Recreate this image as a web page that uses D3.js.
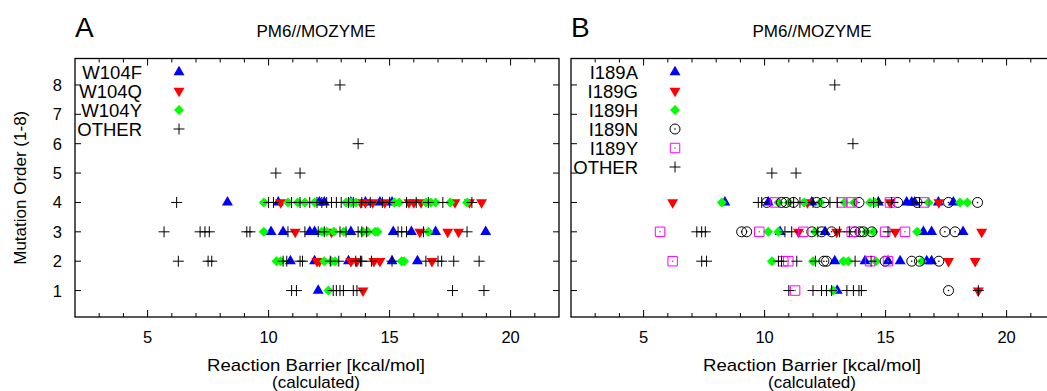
<!DOCTYPE html>
<html>
<head>
<meta charset="utf-8">
<script src="https://cdn.jsdelivr.net/npm/d3@7"></script>
<style>
  body { margin: 0; background: #fff; }
  text { font-family: "Liberation Sans", Arial, sans-serif; fill: #000; }
</style>
</head>
<body>
<div id="chart"></div>
<script>
// barrier values (kcal/mol) per mutation order
// panel A : W104
var aF = { 4: [8.3, 10.4, 12.1, 12.3, 13.4, 14.0, 14.6, 15.1],
           3: [10.1, 10.6, 11.7, 11.9, 13.4, 15.15, 15.9, 16.9, 18.97],
           2: [10.9, 11.9, 13.3, 15.1, 16.15],
           1: [12.05] };
var aQ = { 4: [10.5, 13.8, 14.0, 14.3, 14.8, 15.8, 16.0, 16.3, 17.7, 18.3, 18.8],
           3: [11.1, 12.6, 16.25, 17.4, 17.85],
           2: [12.0, 12.1, 13.4, 13.65, 14.35, 14.6, 16.75],
           1: [13.9] };
var aY = { 4: [9.8, 10.8, 11.2, 11.5, 11.9, 13.2, 13.4, 13.6, 15.2, 15.4, 16.5, 16.7, 16.9, 17.5, 18.2],
           3: [9.8, 12.2, 12.4, 12.7, 13.1, 13.9, 14.1, 14.4, 14.5, 16.6],
           2: [10.33, 10.5, 12.3, 12.6, 12.75, 15.5, 15.6],
           1: [12.47] };
var aOther = { 8: [12.95], 6: [13.7], 5: [10.3, 11.3],
           4: [6.2, 10.0, 10.2, 10.95, 11.3, 11.7, 12.0, 12.2, 12.4, 12.6, 12.8, 13.0, 13.3, 13.5, 13.85, 14.2, 14.7, 15.0, 15.7, 16.1, 16.6, 17.2, 18.4],
           3: [5.68, 7.17, 7.37, 7.55, 9.1, 9.23, 10.8, 11.5, 12.05, 12.3, 12.95, 13.2, 13.7, 13.85, 14.05, 15.35, 15.5, 15.7, 16.4, 18.2],
           2: [6.27, 7.5, 7.65, 10.6, 10.75, 11.3, 11.4, 12.55, 12.9, 13.6, 13.8, 13.85, 14.25, 15.1, 16.5, 17.0, 17.15, 17.65, 18.7],
           1: [10.95, 11.15, 12.67, 12.8, 12.95, 13.09, 13.5, 13.65, 17.6, 18.9] };

// panel B : I189
var bA = { 4: [8.36, 10.15, 11.95, 14.7, 15.87, 16.08, 16.2, 17.18, 17.8],
           3: [10.64, 12.5, 16.56, 16.9, 18.2],
           2: [12.9, 14.15, 15.1, 15.6, 16.7, 16.9],
           1: [13.0] };
var bG = { 4: [6.2, 11.77, 15.18, 17.2],
           3: [11.4, 12.98, 15.4, 18.97],
           2: [17.6, 18.7],
           1: [18.83] };
var bH = { 4: [8.23, 10.57, 11.0, 11.63, 12.3, 13.3, 13.7, 14.35, 14.56, 16.77, 18.07, 18.38],
           3: [10.15, 10.57, 12.08, 14.2, 14.5, 16.3],
           2: [10.3, 12.0, 13.25, 13.46, 14.6, 16.5],
           1: [12.84] };
var bN = { 4: [10.09, 10.7, 10.88, 11.19, 12.15, 12.45, 13.9, 15.5, 16.3, 17.6, 18.8],
           3: [9.05, 9.26, 11.95, 12.36, 12.77, 13.74, 13.94, 14.08, 14.43, 17.45, 17.87],
           2: [12.45, 12.56, 14.98, 16.08, 16.4, 17.2],
           1: [17.6] };
var bY = { 4: [10.43, 13.2, 13.6, 15.18, 16.6],
           3: [5.68, 9.78, 11.6, 13.6, 14.98, 15.8],
           2: [6.2, 10.77, 10.98, 14.36, 15.1],
           1: [11.26] };
var bOther = { 8: [12.9], 6: [13.65], 5: [10.3, 11.3],
           4: [9.74, 9.88, 11.2, 11.46, 12.0, 12.7, 13.0, 14.5, 14.7, 15.25, 16.4],
           3: [7.2, 7.4, 7.55, 10.84, 11.12, 12.2, 13.1, 13.5, 15.1],
           2: [7.4, 7.6, 10.57, 10.7, 11.33, 12.1, 13.74, 14.4],
           1: [11.0, 12.0, 12.35, 12.56, 12.77, 13.4, 13.67, 13.9, 14.0, 18.83] };

var xTicks = [5, 10, 15, 20];
var yTicks = [1, 2, 3, 4, 5, 6, 7, 8];

var panels = [
  { letter: "A", left: 75, yLabels: true,
    series: [
      { name: "W104F", kind: "up", data: aF },
      { name: "W104Q", kind: "down", data: aQ },
      { name: "W104Y", kind: "diamond", data: aY },
      { name: "OTHER", kind: "plus", data: aOther }
    ] },
  { letter: "B", left: 571, yLabels: false,
    series: [
      { name: "I189A", kind: "up", data: bA },
      { name: "I189G", kind: "down", data: bG },
      { name: "I189H", kind: "diamond", data: bH },
      { name: "I189N", kind: "circle", data: bN },
      { name: "I189Y", kind: "square", data: bY },
      { name: "OTHER", kind: "plus", data: bOther }
    ] }
];

var W = 1047, H = 391;
var plotTop = 58.5, plotBottom = 317, plotW = 484;

var svg = d3.select("#chart").append("svg")
  .attr("width", W).attr("height", H);

// flatten {order: [values]} into points
function toPoints(obj) {
  var pts = [];
  Object.keys(obj).forEach(function (k) {
    obj[k].forEach(function (v) { pts.push({ x: v, y: +k }); });
  });
  return pts;
}

function drawMarker(g, kind) {
  if (kind == "up") {
    g.append("path").attr("d", d3.symbol(d3.symbolTriangle).size(52)())
      .attr("fill", "#0000ff");
  } else if (kind == "down") {
    g.append("path").attr("d", d3.symbol(d3.symbolTriangle).size(52)())
      .attr("transform", "rotate(180)").attr("fill", "#ff0000");
  } else if (kind == "diamond") {
    g.append("path").attr("d", d3.symbol(d3.symbolSquare).size(50)())
      .attr("transform", "rotate(45)").attr("fill", "#00ff00");
  } else if (kind == "circle") {
    g.append("circle").attr("r", 5).attr("fill", "none")
      .attr("stroke", "#000").attr("stroke-width", 1);
    g.append("circle").attr("r", 0.8).attr("fill", "#000");
  } else if (kind == "square") {
    g.append("path").attr("d", d3.symbol(d3.symbolSquare).size(90)())
      .attr("fill", "none").attr("stroke", "#ff00ff").attr("stroke-width", 1);
    g.append("circle").attr("r", 0.8).attr("fill", "#ff00ff");
  } else {
    var p = d3.path();
    p.moveTo(-5.5, 0); p.lineTo(5.5, 0);
    p.moveTo(0, -5.5); p.lineTo(0, 5.5);
    g.append("path").attr("d", p.toString())
      .attr("stroke", "#000").attr("stroke-width", 1).attr("fill", "none");
  }
}

panels.forEach(function (pn) {
  var x = d3.scaleLinear().domain([2, 22]).range([pn.left, pn.left + plotW]);
  var y = d3.scaleLinear().domain([0.1, 8.9]).range([plotBottom, plotTop]);
  var g = svg.append("g");

  // ticks (mirrored, inward)
  d3.range(3, 22).forEach(function (v) {
    var len = (v % 5 == 0) ? 7 : 4;
    g.append("line").attr("x1", x(v)).attr("x2", x(v))
      .attr("y1", plotBottom).attr("y2", plotBottom - len).attr("stroke", "#000");
    g.append("line").attr("x1", x(v)).attr("x2", x(v))
      .attr("y1", plotTop).attr("y2", plotTop + len).attr("stroke", "#000");
  });
  yTicks.forEach(function (v) {
    g.append("line").attr("x1", x(2)).attr("x2", x(2) + 6)
      .attr("y1", y(v)).attr("y2", y(v)).attr("stroke", "#000");
    g.append("line").attr("x1", x(22)).attr("x2", x(22) - 6)
      .attr("y1", y(v)).attr("y2", y(v)).attr("stroke", "#000");
  });

  // frame
  g.append("rect").attr("x", x(2)).attr("y", plotTop)
    .attr("width", plotW).attr("height", plotBottom - plotTop)
    .attr("fill", "none").attr("stroke", "#000").attr("stroke-width", 1.3);

  // tick labels
  g.selectAll(".xl").data(xTicks).enter().append("text")
    .attr("x", function (d) { return x(d); }).attr("y", 343)
    .attr("text-anchor", "middle").attr("font-size", 16.5)
    .text(function (d) { return d; });
  if (pn.yLabels) {
    g.selectAll(".yl").data(yTicks).enter().append("text")
      .attr("x", 62).attr("y", function (d) { return y(d) + 6; })
      .attr("text-anchor", "end").attr("font-size", 16.5)
      .text(function (d) { return d; });
  }

  // axis titles
  var cx = pn.left + plotW / 2 - 1;
  g.append("text").attr("x", cx).attr("y", 371).attr("text-anchor", "middle")
    .attr("font-size", 17).attr("textLength", 218).attr("lengthAdjust", "spacingAndGlyphs")
    .text("Reaction Barrier [kcal/mol]");
  g.append("text").attr("x", cx).attr("y", 388).attr("text-anchor", "middle")
    .attr("font-size", 17).attr("textLength", 88).attr("lengthAdjust", "spacingAndGlyphs")
    .text("(calculated)");
  g.append("text").attr("x", cx).attr("y", 37).attr("text-anchor", "middle")
    .attr("font-size", 17).text("PM6//MOZYME");
  g.append("text").attr("x", pn.left).attr("y", 37)
    .attr("font-size", 28).text(pn.letter);

  // data
  pn.series.forEach(function (s) {
    toPoints(s.data).forEach(function (d) {
      var m = g.append("g").attr("transform", "translate(" + x(d.x) + "," + y(d.y) + ")");
      drawMarker(m, s.kind);
    });
  });

  // legend
  pn.series.forEach(function (s, i) {
    var ly = 72 + i * 19;
    g.append("text").attr("x", pn.left + 67).attr("y", ly + 6.5)
      .attr("text-anchor", "end").attr("font-size", 18.5).text(s.name);
    var m = g.append("g").attr("transform", "translate(" + (pn.left + 104) + "," + ly + ")");
    drawMarker(m, s.kind);
  });
});

svg.append("text")
  .attr("transform", "translate(26," + ((plotTop + plotBottom) / 2) + ") rotate(-90)")
  .attr("text-anchor", "middle").attr("font-size", 17)
  .text("Mutation Order (1-8)");
</script>
</body>
</html>
